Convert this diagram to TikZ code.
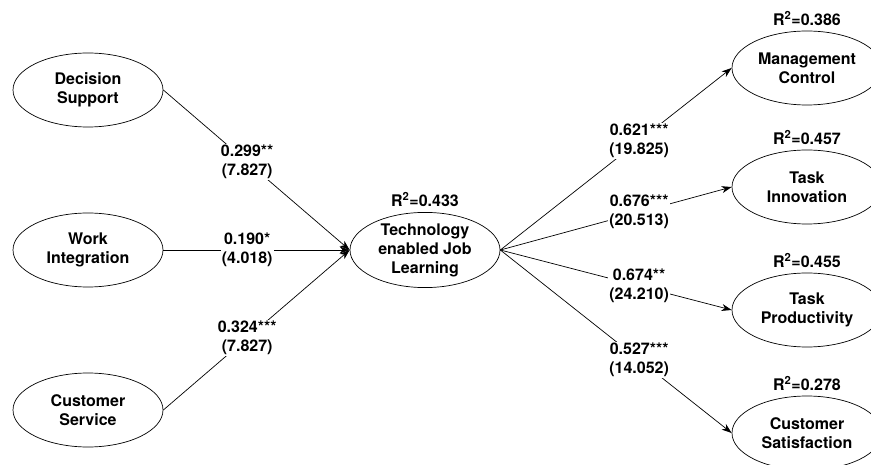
\documentclass[tikz,border=0pt]{standalone}
\usepackage{fontspec}
\setmainfont{TeX Gyre Heros}
\usetikzlibrary{positioning, shapes.geometric, arrows.meta}

\begin{document}
\begin{tikzpicture}[x=1pt, y=-1pt, >={Stealth[length=10pt, width=7pt, inset=3pt]},
  construct/.style={draw, ellipse, line width=0.7pt, minimum width=150pt, minimum height=74pt,
    inner sep=0pt, align=center, font=\fontsize{16}{19}\selectfont\bfseries},
  coef/.style={fill=white, inner sep=1pt, align=center, font=\fontsize{16}{19}\selectfont\bfseries},
  rsq/.style={inner sep=1pt, font=\fontsize{16}{19}\selectfont\bfseries}]
  \useasboundingbox (0,0) rectangle (871,465);
  \clip (0,0) rectangle (871,465);
  % exogenous constructs
  \node [construct] (ds) at (88,90) {Decision\\Support};
  \node [construct] (wi) at (88,250) {Work\\Integration};
  \node [construct] (cs) at (88,410) {Customer\\Service};
  % central construct
  \node [construct] (tjl) at (425,250) {Technology\\enabled Job\\Learning};
  \node [rsq, above=4pt of tjl] (rtjl) {R\textsuperscript{2}=0.433};
  % outcomes
  \node [construct] (mc) at (807,68) {Management\\Control};
  \node [construct] (ti) at (807,187) {Task\\Innovation};
  \node [construct] (tp) at (807,310) {Task\\Productivity};
  \node [construct] (csat) at (807,433) {Customer\\Satisfaction};
  \node [rsq, above=4pt of mc] (rmc) {R\textsuperscript{2}=0.386};
  \node [rsq, above=4pt of ti] (rti) {R\textsuperscript{2}=0.457};
  \node [rsq, above=4pt of tp] (rtp) {R\textsuperscript{2}=0.455};
  \node [rsq, above=4pt of csat] (rcsat) {R\textsuperscript{2}=0.278};
  % paths
  \draw [->, line width=0.7pt] (ds.east) -- node [coef, pos=0.45] {0.299**\\(7.827)} (tjl.west);
  \draw [->, line width=0.7pt] (wi.east) -- node [coef, pos=0.45] {0.190*\\(4.018)} (tjl.west);
  \draw [->, line width=0.7pt] (cs.east) -- node [coef, pos=0.45] {0.324***\\(7.827)} (tjl.west);
  \draw [->, line width=0.7pt] (tjl.east) -- node [coef, pos=0.6] {0.621***\\(19.825)} (mc.west);
  \draw [->, line width=0.7pt] (tjl.east) -- node [coef, pos=0.6] {0.676***\\(20.513)} (ti.west);
  \draw [->, line width=0.7pt] (tjl.east) -- node [coef, pos=0.6] {0.674**\\(24.210)} (tp.west);
  \draw [->, line width=0.7pt] (tjl.east) -- node [coef, pos=0.6] {0.527***\\(14.052)} (csat.west);
\end{tikzpicture}
\end{document}
